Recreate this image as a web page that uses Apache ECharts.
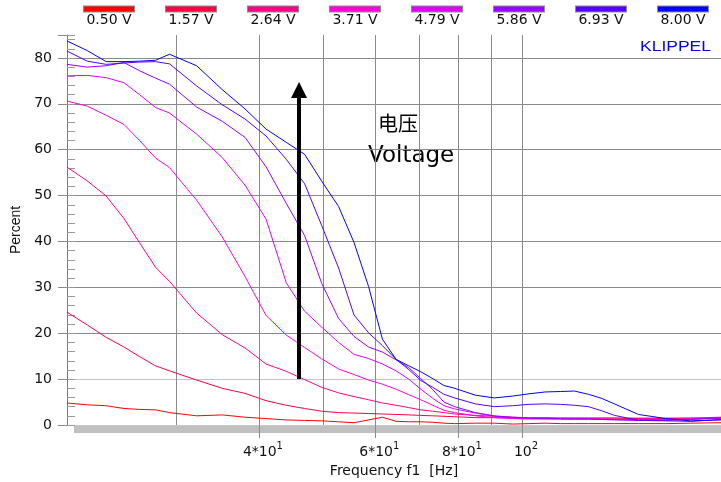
<!DOCTYPE html>
<html>
<head>
<meta charset="utf-8">
<title>Percent vs Frequency f1</title>
<script src="https://cdn.jsdelivr.net/npm/echarts@6/dist/echarts.min.js"></script>
<style>
html, body { margin: 0; padding: 0; background: #fff; }
#chart { width: 721px; height: 482px; }
</style>
</head>
<body>
<div id="chart"></div>
<script>
// frequency points (Hz)
const freqHz = [20.5, 22, 23.5, 25, 26.4, 27.9, 29.3, 32.2, 35.2, 38.1, 41, 44, 46.9, 49.8, 52.8, 55.7, 58.6, 61.5, 64.5, 67.4, 70.3, 73.3, 76.2, 79.1, 85, 90.8, 96.7, 102.5, 108.4, 114.3, 120, 126, 132, 138, 150, 165, 180, 200];

// percent values per voltage
const v050 = [4.8, 4.4, 4.2, 3.6, 3.4, 3.3, 2.7, 2.0, 2.2, 1.7, 1.4, 1.1, 1.0, 0.9, 0.7, 0.5, 1.1, 1.7, 0.8, 0.7, 0.7, 0.6, 0.4, 0.3, 0.4, 0.4, 0.2, 0.3, 0.4, 0.3, 0.3, 0.3, 0.3, 0.3, 0.3, 0.3, 0.4, 0.5];
const v157 = [24.6, 21.8, 19.1, 17.0, 14.9, 12.9, 11.8, 9.8, 8.0, 6.9, 5.3, 4.3, 3.6, 3.0, 2.7, 2.6, 2.5, 2.4, 2.3, 2.2, 2.1, 2.0, 1.9, 1.8, 1.6, 1.6, 1.5, 1.5, 1.5, 1.5, 1.5, 1.5, 1.5, 1.5, 1.5, 1.5, 1.5, 1.5];
const v264 = [56.2, 53.2, 49.9, 45.0, 39.7, 34.4, 31.3, 24.4, 19.7, 16.8, 13.3, 11.7, 9.9, 8.2, 7.0, 6.2, 5.5, 4.8, 4.3, 3.8, 3.3, 3.0, 2.7, 2.4, 2.1, 1.9, 1.7, 1.6, 1.6, 1.5, 1.5, 1.5, 1.5, 1.5, 1.4, 1.4, 1.5, 1.7];
const v371 = [70.6, 69.5, 67.5, 65.5, 62.0, 58.2, 56.1, 49.0, 41.0, 32.4, 23.9, 19.6, 16.9, 14.4, 12.2, 11.0, 9.8, 8.9, 7.8, 6.6, 5.5, 4.3, 3.2, 2.7, 2.0, 1.6, 1.4, 1.3, 1.3, 1.3, 1.3, 1.3, 1.3, 1.2, 1.2, 1.2, 1.3, 1.5];
const v479 = [76.1, 76.2, 75.7, 74.6, 72.0, 69.2, 68.0, 63.4, 58.3, 52.3, 44.9, 31.0, 24.8, 21.3, 18.0, 15.4, 14.5, 13.3, 11.8, 10.0, 7.8, 5.8, 4.2, 3.5, 2.6, 1.9, 1.5, 1.4, 1.4, 1.3, 1.3, 1.3, 1.2, 1.2, 1.1, 1.1, 1.3, 1.6];
const v586 = [78.6, 78.0, 78.3, 79.0, 77.2, 75.6, 74.3, 69.3, 66.2, 62.7, 56.3, 48.3, 41.3, 30.8, 23.2, 19.3, 17.0, 15.9, 14.2, 12.5, 10.1, 7.7, 5.0, 4.0, 2.7, 2.0, 1.7, 1.5, 1.4, 1.4, 1.3, 1.3, 1.2, 1.1, 1.0, 1.0, 1.2, 1.5];
const v693 = [81.5, 79.3, 78.6, 78.9, 79.1, 79.2, 78.7, 73.9, 69.8, 66.7, 63.0, 57.9, 52.6, 43.4, 34.2, 24.0, 20.1, 17.3, 14.3, 12.1, 9.7, 8.2, 6.7, 5.9, 4.6, 4.0, 4.2, 4.5, 4.6, 4.5, 4.3, 4.0, 3.1, 2.1, 1.0, 0.9, 0.8, 1.2];
const v800 = [83.7, 81.6, 79.2, 79.2, 79.3, 79.5, 80.8, 78.3, 73.1, 68.9, 64.5, 61.6, 59.0, 53.1, 47.6, 39.8, 30.2, 18.7, 14.3, 12.9, 11.6, 10.1, 8.6, 8.0, 6.5, 5.9, 6.3, 6.8, 7.2, 7.3, 7.4, 6.7, 5.8, 4.6, 2.3, 1.4, 0.9, 1.1];

const voltNames = ['0.50 V', '1.57 V', '2.64 V', '3.71 V', '4.79 V', '5.86 V', '6.93 V', '8.00 V'];
const seriesValues = [v050, v157, v264, v371, v479, v586, v693, v800];

// x axis: grid lines and labelled ticks
const xGridHz = [30, 40, 50, 60, 70, 80, 90, 100];
const xLabelHz = [40, 60, 80, 100];
const xLabelBase = ['4*10', '6*10', '8*10', '10'];
const xLabelExp = ['1', '1', '1', '2'];

// arrow annotation (Hz, percent from, percent to)
const arrowHz = 46;
const arrowFrom = 10;
const arrowTo = 73;

const lineColors = ['#ff0000', '#ff0044', '#ff0088', '#ff00dd', '#dd00ff', '#9900ff', '#5500ff', '#0000ff'];

const lg = (f) => Math.log10(f);
const chart = echarts.init(document.getElementById('chart'));

// legend: coloured bar above the text
const legendRich = {
    t: { width: 50, align: 'center', fontFamily: 'DejaVu Sans', fontSize: 14, color: '#111', lineHeight: 17 }
};
lineColors.forEach((c, i) => {
    legendRich['c' + i] = { width: 50, height: 5, lineHeight: 6, backgroundColor: c, borderColor: '#8c8c8c', borderWidth: 1 };
});

const series = seriesValues.map((vals, i) => ({
    name: voltNames[i],
    type: 'line',
    data: vals.map((v, k) => [lg(freqHz[k]), v]),
    symbol: 'none',
    showSymbol: false,
    lineStyle: { color: lineColors[i], width: 1 },
    itemStyle: { color: lineColors[i] },
    emphasis: { disabled: true }
}));

series[series.length - 1].markLine = {
    silent: true,
    animation: false,
    symbol: ['none', 'triangle'],
    symbolSize: [16, 16],
    label: { show: false },
    lineStyle: { color: '#000', width: 4, type: 'solid' },
    itemStyle: { color: '#000' },
    emphasis: { disabled: true },
    data: [[{ coord: [lg(arrowHz), arrowFrom] }, { coord: [lg(arrowHz), arrowTo] }]]
};

const option = {
    animation: false,
    backgroundColor: '#fff',
    grid: { left: 67, right: 0, top: 35, bottom: 57, containLabel: false, outerBoundsMode: 'none' },
    legend: {
        data: voltNames,
        top: 3,
        left: 78,
        width: 700,
        padding: 0,
        itemWidth: 0,
        itemHeight: 0,
        itemGap: 25,
        selectedMode: false,
        formatter: (name) => '{c' + voltNames.indexOf(name) + '|}\n{t|' + name + '}',
        textStyle: { rich: legendRich }
    },
    xAxis: [{
        type: 'value',
        min: lg(20.5),
        max: lg(200),
        name: 'Frequency f1  [Hz]',
        nameLocation: 'middle',
        nameGap: 35,
        nameTextStyle: { fontFamily: 'DejaVu Sans', fontSize: 14, color: '#111' },
        axisLine: { show: false },
        axisTick: { show: false, customValues: xGridHz.map(lg) },
        splitLine: { show: true, lineStyle: { color: '#8a8a8a', width: 1 } },
        axisLabel: {
            customValues: xLabelHz.map(lg),
            margin: 16,
            padding: [0, 0, 0, 8],
            formatter: (v) => {
                const i = xLabelHz.findIndex((h) => Math.abs(lg(h) - v) < 1e-6);
                return i < 0 ? '' : '{b|' + xLabelBase[i] + '}{s|' + xLabelExp[i] + '}';
            },
            rich: {
                b: { fontFamily: 'DejaVu Sans', fontSize: 14, color: '#111', lineHeight: 18, verticalAlign: 'bottom' },
                s: { fontFamily: 'DejaVu Sans', fontSize: 10, color: '#111', lineHeight: 18, verticalAlign: 'top' }
            }
        }
    }, {
        type: 'value',
        min: lg(20.5),
        max: lg(200),
        position: 'bottom',
        z: 10,
        axisLine: { show: false },
        axisLabel: { show: false },
        splitLine: { show: false },
        axisTick: { show: true, length: 13, customValues: xLabelHz.map(lg), lineStyle: { color: '#8a8a8a' } }
    }],
    yAxis: [{
        type: 'value',
        min: 0,
        max: 85,
        interval: 10,
        position: 'left',
        name: 'Percent',
        nameLocation: 'middle',
        nameGap: 43,
        nameRotate: 90,
        nameTextStyle: { fontFamily: 'Liberation Sans', fontSize: 14, color: '#111' },
        axisLine: { show: true, lineStyle: { color: '#7a7a7a', width: 1 } },
        axisTick: { show: true, length: 9, lineStyle: { color: '#8a8a8a' } },
        axisLabel: {
            margin: 15,
            fontFamily: 'DejaVu Sans',
            fontSize: 14,
            color: '#111',
            formatter: (v) => (v % 10 === 0 ? String(v) : '')
        },
        splitLine: {
            show: true,
            showMaxLine: false,
            lineStyle: { color: ['#c8c8c8', '#c4c4c4', '#8a8a8a', '#8a8a8a', '#8a8a8a', '#8a8a8a', '#8a8a8a', '#8a8a8a', '#8a8a8a', '#8a8a8a'], width: 1 }
        }
    }, {
        type: 'value',
        min: 0,
        max: 85,
        interval: 2,
        position: 'left',
        axisLine: { show: false },
        axisLabel: { show: false },
        splitLine: { show: false },
        axisTick: { show: true, inside: true, length: 8, lineStyle: { color: '#9a9a9a' } }
    }],
    graphic: [
        { type: 'rect', z: 1, shape: { x: 74, y: 426, width: 647, height: 7 }, style: { fill: '#c0c0c0' } },
        { type: 'text', x: 711, y: 40, scaleX: 1.25, style: { text: 'KLIPPEL', align: 'right', verticalAlign: 'top', fill: '#0000ff', font: '14px "Liberation Sans"' } },
        { type: 'text', x: 378, y: 113, style: { text: '电压', verticalAlign: 'top', fill: '#000', font: '20px "Noto Sans CJK SC"' } },
        { type: 'text', x: 368, y: 145, style: { text: 'Voltage', verticalAlign: 'top', fill: '#000', font: '23px "DejaVu Sans"' } }
    ],
    series: series
};

chart.setOption(option);
</script>
</body>
</html>
